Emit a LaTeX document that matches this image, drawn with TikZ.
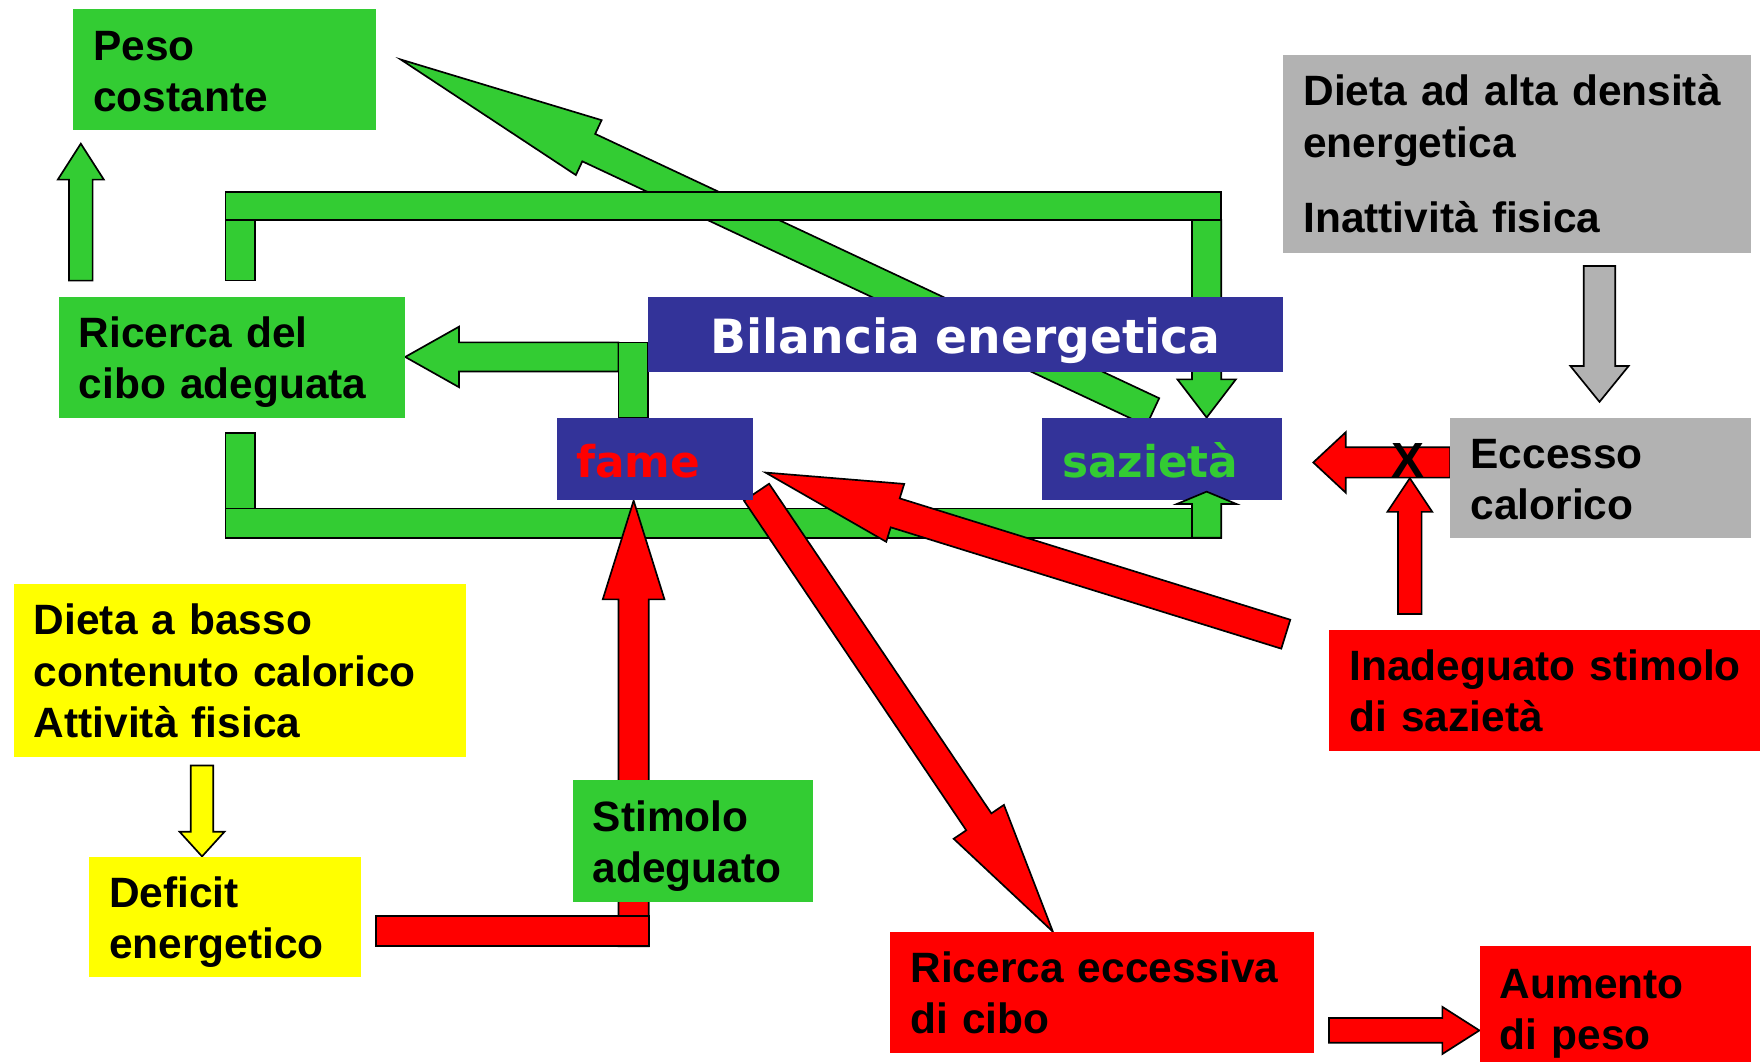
\documentclass[tikz,border=0pt]{standalone}
\usepackage{fontspec}
\setmainfont{Liberation Sans}
\newfontfamily\wideface{DejaVu Sans}
\usetikzlibrary{calc}
\definecolor{grn}{HTML}{33CC33}
\definecolor{blu}{HTML}{333399}
\definecolor{gry}{HTML}{B2B2B2}
\definecolor{ylw}{HTML}{FFFF00}
\definecolor{rd}{HTML}{FF0000}
\newcommand{\boxfont}{\bfseries\fontsize{37.8}{45.5}\selectfont}
\newcommand{\boxlines}[1]{\rule{0pt}{45pt}#1\rule[-17pt]{0pt}{17pt}}
\newcommand{\blockarrow}[6]{%
    \coordinate (ba-h) at ($(#3)!#6!(#2)$);
    \draw[#1] ($(#2)!#4!90:(#3)$) -- ($(ba-h)!#4!90:(#3)$)
        -- ($(ba-h)!#5!90:(#3)$) -- (#3) -- ($(ba-h)!#5!-90:(#3)$)
        -- ($(ba-h)!#4!-90:(#3)$) -- ($(#2)!#4!-90:(#3)$) -- cycle;
}
\tikzset{
    block/.style={draw, line width=1.5pt, line join=miter},
    box/.style={anchor=north west, inner xsep=18pt, inner ysep=0pt,
        align=left, font=\boxfont},
}
\begin{document}
\begin{tikzpicture}[x=1pt, y=-1pt]
    \useasboundingbox (0,0) rectangle (1568,946);
    \coordinate (diag-tail) at (1027,367);
    \coordinate (diag-tip) at (357,53);
    \coordinate (top-tail) at (1075,196);
    \coordinate (top-tip) at (1075,372);
    \coordinate (bot-tail) at (1075,479);
    \coordinate (bot-tip) at (1075,438);
    \coordinate (left-tail) at (551,318);
    \coordinate (left-tip) at (361,318);
    \coordinate (up-tail) at (72,250);
    \coordinate (up-tip) at (72,128);
    \coordinate (gray-tail) at (1425,237);
    \coordinate (gray-tip) at (1425,358);
    \coordinate (exc-tail) at (1292,412);
    \coordinate (exc-tip) at (1170,412);
    \coordinate (inad-tail) at (1256,547);
    \coordinate (inad-tip) at (1256,426);
    \coordinate (long-tail) at (1145.5,565);
    \coordinate (long-tip) at (682,421);
    \coordinate (down-tail) at (674,438.5);
    \coordinate (down-tip) at (938,830);
    \coordinate (stim-tail) at (564.5,843);
    \coordinate (stim-tip) at (564.5,446);
    \coordinate (ylw-tail) at (180,682);
    \coordinate (ylw-tip) at (180,763);
    \coordinate (aum-tail) at (1184,918);
    \coordinate (aum-tip) at (1318,918);

    \blockarrow{block, fill=grn}{diag-tail}{diag-tip}{13.5pt}{27pt}{185pt}
    \draw[block, fill=grn] (201,171) rectangle (1088,196);
    \draw[block, fill=grn] (201,196) rectangle (227,250);
    \blockarrow{block, fill=grn}{top-tail}{top-tip}{13pt}{26pt}{34pt}
    \blockarrow{block, fill=grn}{left-tail}{left-tip}{13pt}{27pt}{48pt}
    \draw[block, fill=grn] (551,305) rectangle (577,372);
    \blockarrow{block, fill=grn}{up-tail}{up-tip}{10.5pt}{20.5pt}{32pt}

    \node[box, fill=blu, inner xsep=0pt, text width=566pt, align=center,
        text=white, font=\wideface\bfseries\fontsize{42}{50}\selectfont]
        (bilancia) at (577,264)
        {\rule{0pt}{51pt}Bilancia energetica\rule[-16pt]{0pt}{16pt}};
    \node[box, fill=blu, text width=178pt, text=grn,
        font=\wideface\bfseries\fontsize{39}{46}\selectfont]
        (sazieta) at (928,372) {\rule{0pt}{53pt}sazietà\rule[-20pt]{0pt}{20pt}};

    \draw[block, fill=grn] (201,453) rectangle (1088,479);
    \draw[block, fill=grn] (201,386) rectangle (227,453);
    \blockarrow{block, fill=grn}{bot-tail}{bot-tip}{13pt}{26.5pt}{11pt}

    \blockarrow{block, fill=rd}{long-tail}{long-tip}{13.5pt}{27pt}{121pt}
    \blockarrow{block, fill=rd}{down-tail}{down-tip}{13.5pt}{27pt}{118pt}
    \blockarrow{block, fill=rd}{stim-tail}{stim-tip}{13.5pt}{27.5pt}{88pt}
    \draw[block, fill=rd] (335,816) rectangle (578,843);
    \blockarrow{block, fill=rd}{exc-tail}{exc-tip}{13.5pt}{27pt}{29pt}
    \blockarrow{block, fill=rd}{inad-tail}{inad-tip}{10.5pt}{20pt}{30pt}
    \blockarrow{block, fill=rd}{aum-tail}{aum-tip}{11pt}{21pt}{33pt}
    \blockarrow{block, fill=gry}{gray-tail}{gray-tip}{14pt}{26pt}{32pt}
    \blockarrow{block, fill=ylw}{ylw-tail}{ylw-tip}{10pt}{20pt}{22pt}

    \node[box, fill=blu, inner xsep=17pt, text width=141pt, text=rd,
        font=\wideface\bfseries\fontsize{39}{46}\selectfont]
        (fame) at (496,372) {\rule{0pt}{53pt}fame\rule[-20pt]{0pt}{20pt}};
    \node[box, fill=grn, text width=234pt, minimum height=108pt]
        (peso) at (65,8) {\boxlines{Peso\\costante}};
    \node[box, fill=gry, text width=381pt, minimum height=176pt,
        font=\bfseries\fontsize{37.8}{46.5}\selectfont] (alta) at (1143,49)
        {\rule{0pt}{45pt}Dieta ad alta densità\\energetica\\[20pt]Inattività
        fisica\rule[-18pt]{0pt}{18pt}};
    \node[box, fill=grn, text width=273pt, minimum height=108pt]
        (ricerca) at (52,264) {\boxlines{Ricerca del\\cibo adeguata}};
    \node[box, fill=gry, text width=232pt, minimum height=107pt]
        (eccesso) at (1292,372) {\boxlines{Eccesso\\calorico}};
    \node[box, fill=ylw, text width=367pt, minimum height=154pt]
        (basso) at (12,520)
        {\boxlines{Dieta a basso\\contenuto calorico\\Attività fisica}};
    \node[box, fill=ylw, text width=206pt, minimum height=107pt]
        (deficit) at (79,763) {\boxlines{Deficit\\energetico}};
    \node[box, fill=grn, text width=178pt, minimum height=108pt]
        (stimolo) at (510,695) {\boxlines{Stimolo\\adeguato}};
    \node[box, fill=rd, text width=348pt, minimum height=108pt]
        (inadeguato) at (1184,561)
        {\boxlines{\mbox{Inadeguato stimolo}\\di sazietà}};
    \node[box, fill=rd, text width=341pt, minimum height=108pt]
        (eccessiva) at (793,830) {\boxlines{Ricerca eccessiva\\di cibo}};
    \node[box, fill=rd, text width=206pt, minimum height=110pt]
        (aumento) at (1318,843) {\boxlines{Aumento\\di peso}};
    \node[font=\bfseries\fontsize{44}{44}\selectfont] (x-mark) at (1254,410) {X};
\end{tikzpicture}
\end{document}
